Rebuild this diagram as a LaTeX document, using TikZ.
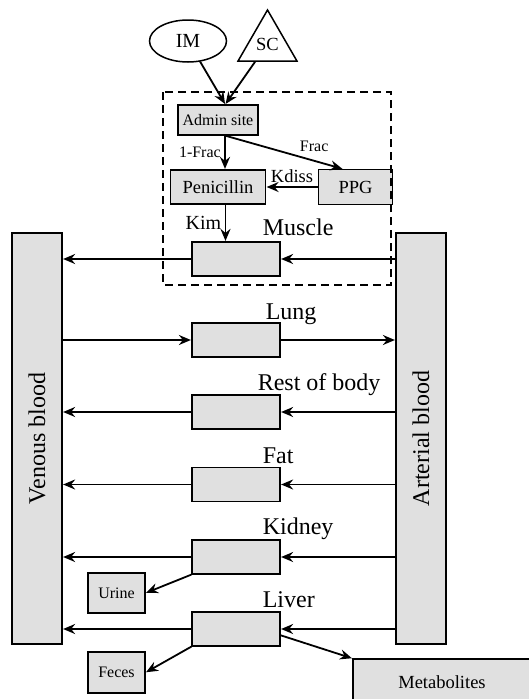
\documentclass[tikz,border=0pt]{standalone}
\usepackage{fontspec}
\setmainfont{Liberation Serif}
\usepackage{graphicx}
\usetikzlibrary{arrows.meta,positioning,shapes.geometric}

\tikzset{
  box/.style={draw, fill=black!12, line width=1.2pt, inner sep=0pt},
  organ/.style={box, minimum width=88pt, minimum height=34pt},
  blood/.style={box, minimum width=50pt, minimum height=411pt, font=\fontsize{24}{24}\selectfont},
  organlbl/.style={anchor=base west, inner sep=0pt, font=\fontsize{24}{24}\selectfont},
  small/.style={font=\fontsize{16}{16}\selectfont},
  mid/.style={font=\fontsize{18.5}{18.5}\selectfont},
  big/.style={font=\fontsize{20}{20}\selectfont},
  route/.style={draw, line width=1.5pt, inner sep=0pt, big},
  dashbox/.style={line width=1.8pt, dash pattern=on 8pt off 5pt},
  flow/.style={line width=1.8pt, -{Stealth[length=12pt,width=10pt,inset=4pt]}},
}

\begin{document}
\begin{tikzpicture}[x=1pt,y=-1pt,shorten >=0.5pt,node distance=72pt,on grid,auto]
   \useasboundingbox (0,0) rectangle (529,699);

   % dosing
   \node[route, ellipse, minimum width=77pt, minimum height=42pt] (im) at (188,41) {IM};
   \node[route, regular polygon, regular polygon sides=3, minimum size=68pt, mid] (sc) at (267.5,44) {SC};

   \node[box, small, minimum width=80pt, minimum height=30pt] (adm) at (218,120) {Admin site};
   \node[box, mid, minimum width=95pt, minimum height=34pt] (pen) [below=67pt of adm] {Penicillin};
   \node[box, mid, minimum width=74pt, minimum height=35pt] (ppg) [right=137.5pt of pen] {PPG};
   \coordinate (fork) at ([xshift=7pt]adm.south);
   \coordinate (kimtop) at ([xshift=7.5pt]pen.south);

   \draw[dashbox] (163,92) rectangle (391,285);

   % blood pools
   \node[blood] (ven) at (37,438.5)  {\rotatebox{90}{Venous blood}};
   \node[blood] (art) at (421,438.5) {\rotatebox{90}{Arterial blood}};

   % organs
   \node[organ] (mus) at (236,259) {};
   \node[organ] (lung) [below=81pt of mus]   {};
   \node[organ] (rest) [below=72pt of lung]  {};
   \node[organ] (fat)  [below=72.5pt of rest] {};
   \node[organ] (kid)  [below=72.5pt of fat]  {};
   \node[organ] (liv)  [below=72pt of kid]   {};

   \node[organlbl] (muslbl)  at ([xshift=-18pt,yshift=6pt]mus.north east)  {Muscle};
   \node[organlbl] (lunglbl) at ([xshift=-15pt,yshift=3pt]lung.north east) {Lung};
   \node[organlbl] (restlbl) at ([xshift=-23pt,yshift=4pt]rest.north east) {Rest of body};
   \node[organlbl] (fatlbl)  at ([xshift=-18pt,yshift=3pt]fat.north east)  {Fat};
   \node[organlbl] (kidlbl)  at ([xshift=-18pt,yshift=5pt]kid.north east)  {Kidney};
   \node[organlbl] (livlbl)  at ([xshift=-18pt,yshift=4pt]liv.north east)  {Liver};

   % elimination
   \node[box, small, minimum width=57pt, minimum height=40pt] (urine) [below left=36pt and 119.5pt of kid] {Urine};
   \node[box, small, minimum width=57pt, minimum height=41pt] (feces) [below=79.5pt of urine] {Feces};
   \node[box, mid, minimum width=178pt, minimum height=46pt] (met) at (442,682) {Metabolites};

    \path[flow]
    (im)     edge (adm.65)
    (sc)     edge (adm.65)
    (fork)   edge node[left,small] {1-Frac} (fork |- pen.north)
             edge node[pos=0.6,above right,small] {Frac} (ppg.125)
    (ppg)    edge node[above,mid] {Kdiss} (pen)
    (kimtop) edge node[left,big] {Kim} (kimtop |- mus.north)
    (art.west |- mus)  edge (mus)
    (mus)              edge (ven.east |- mus)
    (ven.east |- lung) edge (lung)
    (lung)             edge (art.west |- lung)
    (art.west |- rest) edge (rest)
    (rest)             edge (ven.east |- rest)
    (art.west |- fat)  edge (fat)
    (fat)              edge (ven.east |- fat)
    (art.west |- kid)  edge (kid)
    (kid)              edge (ven.east |- kid)
    (art.west |- liv)  edge (liv)
    (liv)              edge (ven.east |- liv)
    (kid.south west)   edge (urine.east)
    (liv.south west)   edge (feces.east)
    (liv.-8)           edge (met.north west);
\end{tikzpicture}
\end{document}
